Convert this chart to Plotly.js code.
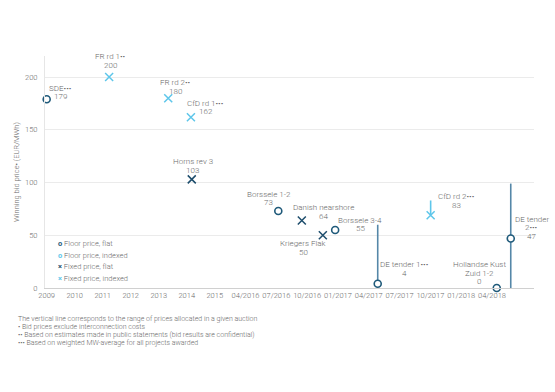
<!DOCTYPE html>
<html>
<head>
<meta charset="utf-8">
<script src="https://cdn.plot.ly/plotly-3.0.1.min.js"></script>
<style>html,body{margin:0;padding:0;background:#fff;}#chart{width:555px;height:392px;}</style>
</head>
<body>
<div id="chart"></div>
<script>
// ---- data ----
var tickLabels = ["2009","2010","2011","2012","2013","2014","2015","04/2016","07/2016","10/2016","01/2017","04/2017","07/2017","10/2017","01/2018","04/2018"];
var tickPos = [0,1,2,3,4,5,6,7.1,8.2,9.3,10.4,11.5,12.6,13.7,14.8,15.9];

var auctionNames = ["SDE•••","FR rd 1••","FR rd 2••","CfD rd 1•••","Horns rev 3","Borssele 1-2","Danish nearshore","Kriegers Flak","Borssele 3-4","DE tender 1•••","CfD rd 2•••","Hollandse Kust|Zuid 1-2","DE tender|2•••"];
var auctionX = [0, 2.23, 4.34, 5.15, 5.18, 8.27, 9.11, 9.86, 10.3, 11.82, 13.71, 16.07, 16.57];
var auctionPrice = [179, 200, 180, 162, 103, 73, 64, 50, 55, 4, 69, 0, 47];
var priceLabels = ["179","200","180","162","103","73","64","50","55","4","83","0","47"];
var auctionType = ["floorFlat","fixedIndexed","fixedIndexed","fixedIndexed","fixedFlat","floorFlat","fixedFlat","fixedFlat","floorFlat","floorFlat","fixedIndexed","floorFlat","floorFlat"];

// price ranges (vertical lines)
var rangeX = [11.82, 13.71, 16.57];
var rangeLow = [4, 69, 0];
var rangeHigh = [60, 83, 99];
var rangeType = ["floorFlat","fixedIndexed","floorFlat"];

var seriesNames = {floorFlat:"Floor price, flat", floorIndexed:"Floor price, indexed", fixedFlat:"Fixed price, flat", fixedIndexed:"Fixed price, indexed"};
var footnotes = [
  "The vertical line corresponds to the range of prices allocated in a given auction",
  "• Bid prices exclude interconnection costs",
  "•• Based on estimates made in public statements (bid results are confidential)",
  "••• Based on weighted MW-average for all projects awarded"
];

// ---- styles ----
var DARK = "#1f5a7a", DARKX = "#1d4d6c", LIGHT = "#5ec6ea", LINE_DARK = "#5587a8";
var TXT = "#6a6a6a";
var FONT = "Roboto, 'Open Sans', sans-serif";
var labelDx = [14, 1, 7, 15, 1, -9.5, 21.5, -19.5, 25, 27, 25.5, -17.3, 21];
var labelDy = [11, 20.3, 15.4, 14, 18, 17, 12.7, -8.3, 10, 19.4, 18.3, 23.7, 19.3];
var LINE_STEP = 8.7;

var ML = 45, MR = 21, MT = 56, MB = 104, W = 555, H = 392;
var PW = W - ML - MR, PH = H - MT - MB;
function px2paperX(px){ return (px - ML) / PW; }
function px2paperY(py){ return (H - MB - py) / PH; }
function f(size){ return {family: FONT, size: size, color: TXT, weight: 300}; }

var styleFor = {
  floorFlat: {symbol:"circle", size:7, color:"#ffffff", line:{color:DARK, width:1.6}},
  floorIndexed: {symbol:"circle", size:7, color:"#ffffff", line:{color:LIGHT, width:1.6}},
  fixedFlat: {symbol:"x-thin", size:8, color:DARKX, line:{color:DARKX, width:1.5}},
  fixedIndexed: {symbol:"x-thin", size:8, color:LIGHT, line:{color:LIGHT, width:1.5}}
};

var traces = [];
// range lines
for (var r = 0; r < rangeX.length; r++) {
  traces.push({
    x: [rangeX[r], rangeX[r]], y: [rangeLow[r], rangeHigh[r]],
    mode: "lines", type: "scatter", showlegend: false, hoverinfo: "skip",
    line: {color: rangeType[r] === "fixedIndexed" ? LIGHT : LINE_DARK, width: 1.6},
    cliponaxis: false
  });
}
["floorFlat","floorIndexed","fixedFlat","fixedIndexed"].forEach(function(t){
  var xs = [], ys = [], tx = [];
  for (var i = 0; i < auctionX.length; i++) {
    if (auctionType[i] === t) { xs.push(auctionX[i]); ys.push(auctionPrice[i]); tx.push(auctionNames[i].replace("|"," ")); }
  }
  traces.push({
    x: xs, y: ys, text: tx, name: seriesNames[t], type: "scatter", mode: "markers",
    marker: styleFor[t], showlegend: false, cliponaxis: false
  });
});

var annotations = [];
for (var i = 0; i < auctionX.length; i++) {
  var lines = auctionNames[i].split("|").concat([priceLabels[i]]);
  for (var j = 0; j < lines.length; j++) {
    annotations.push({
      x: auctionX[i], y: auctionPrice[i], xref: "x", yref: "y",
      text: lines[j], showarrow: false, xanchor: "center", yanchor: "middle",
      xshift: labelDx[i], yshift: labelDy[i] - j * LINE_STEP,
      font: f(8)
    });
  }
}
// legend (compact, as in the original)
var legendItems = [
  {sym:"o", color:DARK, t:"floorFlat"},
  {sym:"o", color:LIGHT, t:"floorIndexed"},
  {sym:"×", color:DARKX, t:"fixedFlat"},
  {sym:"×", color:LIGHT, t:"fixedIndexed"}
];
var legendY = [243.3, 255, 266.7, 278.3];
legendItems.forEach(function(it, k){
  annotations.push({
    xref:"paper", yref:"paper", x: px2paperX(56), y: px2paperY(legendY[k]),
    xanchor:"left", yanchor:"middle", showarrow:false, align:"left",
    text: '<span style="color:' + it.color + ';font-weight:bold">' + it.sym + '</span> ' + seriesNames[it.t],
    font: f(7.5)
  });
});
var footY = [319, 327.3, 335, 343.3];
footnotes.forEach(function(t, k){
  annotations.push({
    xref:"paper", yref:"paper", x: px2paperX(16), y: px2paperY(footY[k]),
    xanchor:"left", yanchor:"middle", showarrow:false, align:"left",
    text: t, font: f(7)
  });
});

var layout = {
  width: W, height: H,
  margin: {l: ML, r: MR, t: MT, b: MB, pad: 0},
  paper_bgcolor: "#ffffff", plot_bgcolor: "#ffffff",
  showlegend: false,
  font: f(7.5),
  xaxis: {
    range: [-0.06, 17.4], tickmode: "array", tickvals: tickPos, ticktext: tickLabels,
    showgrid: false, zeroline: false, showline: true, linecolor: "#d0d0d0", linewidth: 1,
    ticks: "", tickfont: f(7.5), fixedrange: true
  },
  yaxis: {
    range: [0, 220], tickvals: [0, 50, 100, 150, 200], showgrid: true, gridcolor: "#ebebeb", gridwidth: 1,
    zeroline: false, showline: true, linecolor: "#e6e6e6", ticks: "", ticklabelstandoff: 5,
    tickfont: f(7.5),
    title: {text: "Winning bid price• (EUR/MWh)", font: f(7.5), standoff: 4},
    fixedrange: true
  },
  annotations: annotations
};

Plotly.newPlot("chart", traces, layout, {displayModeBar: false, staticPlot: true});
</script>
</body>
</html>
